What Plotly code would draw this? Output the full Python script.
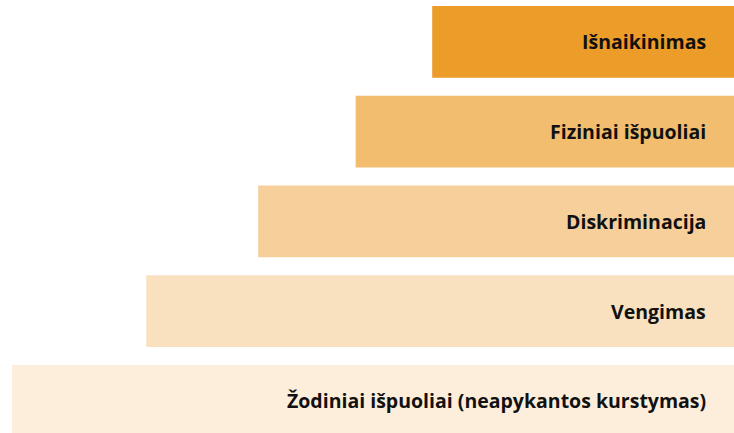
import plotly.graph_objects as go

# Categories from bottom to top
categories = [
    "Žodiniai išpuoliai (neapykantos kurstymas)",
    "Vengimas",
    "Diskriminacija",
    "Fiziniai išpuoliai",
    "Išnaikinimas",
]
# Relative bar lengths (widest = 100)
values = [100, 81.4, 65.9, 52.4, 41.8]
colors = ["#FDEEDC", "#F9E1C0", "#F6CF9A", "#F2BD6E", "#EC9C28"]

positions = list(range(len(categories)))

fig = go.Figure()
fig.add_trace(go.Bar(
    y=positions,
    x=values,
    orientation="h",
    marker=dict(color=colors, line=dict(width=0)),
    hoverinfo="skip",
    showlegend=False,
))

for p, c in zip(positions, categories):
    fig.add_annotation(
        x=708 / 734, xref="paper", xanchor="right",
        y=p, yref="y", yanchor="middle",
        text=c,
        showarrow=False,
        font=dict(family="Open Sans", size=19.5, weight=700, color="#111111"),
    )

fig.update_layout(
    width=734, height=433,
    margin=dict(l=0, r=0, t=0, b=0),
    paper_bgcolor="white", plot_bgcolor="white",
    bargap=0.2,
    xaxis=dict(range=[101.66, 0], visible=False, fixedrange=True),
    yaxis=dict(range=[-0.3595, 4.468], visible=False, fixedrange=True),
)

fig.write_html(
    "out.html",
    config={"displayModeBar": False},
    post_script="document.body.style.margin='0';document.body.style.overflow='hidden';",
)
